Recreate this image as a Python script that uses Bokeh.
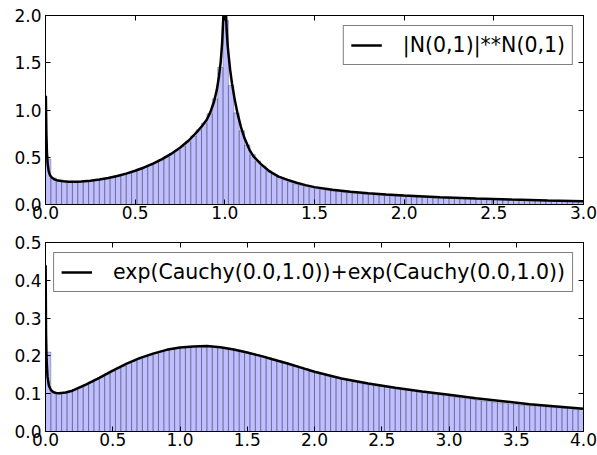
from bokeh.plotting import figure
from bokeh.models import Range1d, FixedTicker, NumeralTickFormatter, LinearAxis, CustomJSTickFormatter
from bokeh.layouts import column
from bokeh.embed import file_html
from bokeh.resources import INLINE

# ---------------- data: top panel |N(0,1)|**N(0,1) ----------------
top_bin_edges_start = 0.0
top_bin_width = 0.03
top_hist = [
    0.48, 0.28, 0.255, 0.245, 0.243, 0.243, 0.245, 0.248, 0.253, 0.26,
    0.268, 0.277, 0.288, 0.30, 0.316, 0.334, 0.353, 0.373, 0.395, 0.418,
    0.445, 0.475, 0.505, 0.54, 0.575, 0.615, 0.665, 0.725, 0.79, 0.86,
    0.96, 1.12, 1.45, 1.95, 1.26, 0.97, 0.78, 0.63, 0.53, 0.46,
    0.405, 0.355, 0.318, 0.288, 0.262, 0.238, 0.219, 0.203, 0.19, 0.178,
    0.168, 0.159, 0.151, 0.143, 0.137, 0.131, 0.125, 0.12, 0.115, 0.111,
    0.107, 0.103, 0.099, 0.096, 0.093, 0.09, 0.087, 0.085, 0.082, 0.08,
    0.077, 0.075, 0.073, 0.071, 0.069, 0.067, 0.065, 0.064, 0.062, 0.061,
    0.059, 0.058, 0.056, 0.055, 0.054, 0.052, 0.051, 0.05, 0.049, 0.048,
    0.047, 0.046, 0.045, 0.044, 0.043, 0.042, 0.041, 0.04, 0.039, 0.038,
]
top_curve_x = [0.002, 0.005, 0.008, 0.012, 0.018, 0.025, 0.035, 0.05, 0.07, 0.1,
               0.13, 0.17, 0.2, 0.25, 0.3, 0.35, 0.4, 0.45, 0.5, 0.55,
               0.6, 0.65, 0.7, 0.75, 0.8, 0.85, 0.875, 0.9, 0.92, 0.94,
               0.955, 0.967, 0.977, 0.985, 0.992, 1.0, 1.005, 1.01, 1.015, 1.02,
               1.03, 1.04, 1.055, 1.07, 1.09, 1.11, 1.14, 1.16, 1.2, 1.25,
               1.3, 1.35, 1.4, 1.45, 1.5, 1.6, 1.7, 1.8, 1.9, 2.0,
               2.2, 2.4, 2.6, 2.8, 3.0]
top_curve_y = [1.15, 0.75, 0.55, 0.43, 0.35, 0.31, 0.285, 0.266, 0.253, 0.245,
               0.242, 0.242, 0.244, 0.252, 0.264, 0.28, 0.302, 0.327, 0.357, 0.392,
               0.433, 0.48, 0.535, 0.60, 0.68, 0.78, 0.835, 0.90, 0.98, 1.09,
               1.21, 1.35, 1.51, 1.71, 2.0, 2.6, 2.1, 1.85, 1.70, 1.60,
               1.42, 1.28, 1.11, 0.97, 0.82, 0.70, 0.57, 0.51, 0.43, 0.35,
               0.295, 0.26, 0.23, 0.205, 0.184, 0.155, 0.134, 0.118, 0.106, 0.095,
               0.077, 0.064, 0.053, 0.043, 0.035]
top_label = "|N(0,1)|**N(0,1)"
top_xticks = [0.0, 0.5, 1.0, 1.5, 2.0, 2.5, 3.0]
top_yticks = [0.0, 0.5, 1.0, 1.5, 2.0]

# ---------------- data: bottom panel exp(Cauchy)+exp(Cauchy) ----------------
bot_bin_edges_start = 0.0
bot_bin_width = 0.04
bot_hist = [
    0.21, 0.103, 0.101, 0.103, 0.106, 0.111, 0.117, 0.124, 0.131, 0.138,
    0.145, 0.153, 0.160, 0.167, 0.173, 0.180, 0.186, 0.192, 0.198, 0.203,
    0.208, 0.212, 0.215, 0.218, 0.221, 0.223, 0.224, 0.225, 0.226, 0.226,
    0.226, 0.224, 0.222, 0.220, 0.218, 0.215, 0.212, 0.209, 0.206, 0.202,
    0.199, 0.195, 0.191, 0.187, 0.182, 0.178, 0.174, 0.170, 0.166, 0.161,
    0.157, 0.153, 0.149, 0.145, 0.142, 0.138, 0.135, 0.132, 0.129, 0.126,
    0.124, 0.121, 0.119, 0.117, 0.115, 0.113, 0.111, 0.109, 0.107, 0.105,
    0.103, 0.101, 0.099, 0.097, 0.095, 0.093, 0.091, 0.089, 0.087, 0.085,
    0.083, 0.081, 0.080, 0.078, 0.076, 0.075, 0.073, 0.072, 0.070, 0.069,
    0.068, 0.067, 0.066, 0.065, 0.064, 0.063, 0.062, 0.061, 0.060, 0.059,
]
bot_curve_x = [0.001, 0.004, 0.008, 0.015, 0.025, 0.04, 0.06, 0.08, 0.1, 0.15,
               0.2, 0.25, 0.3, 0.4, 0.5, 0.6, 0.7, 0.8, 0.9, 1.0,
               1.1, 1.2, 1.3, 1.4, 1.5, 1.6, 1.7, 1.8, 1.9, 2.0,
               2.2, 2.4, 2.6, 2.8, 3.0, 3.2, 3.4, 3.6, 3.8, 4.0]
bot_curve_y = [0.44, 0.26, 0.19, 0.145, 0.122, 0.110, 0.104, 0.102, 0.101, 0.103,
               0.108, 0.116, 0.124, 0.142, 0.161, 0.179, 0.194, 0.206, 0.216, 0.222,
               0.225, 0.226, 0.223, 0.217, 0.209, 0.200, 0.190, 0.180, 0.169, 0.158,
               0.140, 0.127, 0.116, 0.106, 0.097, 0.088, 0.080, 0.072, 0.066, 0.060]
bot_label = "exp(Cauchy(0.0,1.0))+exp(Cauchy(0.0,1.0))"
bot_xticks = [0.0, 0.5, 1.0, 1.5, 2.0, 2.5, 3.0, 3.5, 4.0]
bot_yticks = [0.0, 0.1, 0.2, 0.3, 0.4, 0.5]

FONT = "DejaVu Sans"


def style_axis(ax, ticks, show_labels=True):
    ax.ticker = FixedTicker(ticks=ticks)
    ax.major_tick_in = 5
    ax.major_tick_out = 0
    ax.minor_tick_line_color = None
    ax.axis_line_color = "black"
    ax.major_tick_line_color = "black"
    ax.major_label_text_font = FONT
    ax.major_label_text_color = "black"
    if show_labels:
        ax.formatter = NumeralTickFormatter(format="0.0")
        ax.major_label_text_font_size = "17px"
    else:
        ax.formatter = CustomJSTickFormatter(code="return ''")
        ax.major_label_text_font_size = "1px"
        ax.major_label_standoff = 0


def make_panel(hist, start, width, cx, cy, label, xticks, yticks, b_top, b_bottom):
    p = figure(frame_width=538, frame_height=189,
               x_range=Range1d(xticks[0], xticks[-1]),
               y_range=Range1d(yticks[0], yticks[-1]),
               output_backend="svg", toolbar_location=None,
               min_border_left=45, min_border_right=14,
               min_border_top=b_top, min_border_bottom=b_bottom)
    p.xgrid.visible = False
    p.ygrid.visible = False
    p.outline_line_color = "black"
    p.outline_line_width = 1
    p.background_fill_color = "white"
    p.border_fill_color = "white"

    lefts = [start + i * width for i in range(len(hist))]
    rights = [start + (i + 1) * width for i in range(len(hist))]
    p.quad(left=lefts, right=rights, bottom=0, top=hist,
           fill_color="blue", fill_alpha=0.25,
           line_color="black", line_alpha=0.25, line_width=1)
    p.line(cx, cy, line_color="black", line_width=2.5, legend_label=label)

    style_axis(p.xaxis[0], xticks)
    p.xaxis[0].major_label_standoff = 1
    style_axis(p.yaxis[0], yticks)
    p.yaxis[0].major_label_standoff = 4

    top_ax = LinearAxis()
    style_axis(top_ax, xticks, show_labels=False)
    p.add_layout(top_ax, "above")
    right_ax = LinearAxis()
    style_axis(right_ax, yticks, show_labels=False)
    p.add_layout(right_ax, "right")

    lg = p.legend[0]
    lg.location = "top_right"
    lg.margin = 10
    lg.padding = 7
    lg.glyph_width = 31
    lg.glyph_height = 20
    lg.label_height = 20
    lg.label_standoff = 21
    lg.label_text_font = FONT
    lg.label_text_font_size = "20.5px"
    lg.label_text_color = "black"
    lg.border_line_color = "black"
    lg.border_line_width = 1
    lg.background_fill_alpha = 1.0
    return p


p1 = make_panel(top_hist, top_bin_edges_start, top_bin_width, top_curve_x, top_curve_y,
                top_label, top_xticks, top_yticks, 15, 22)
p2 = make_panel(bot_hist, bot_bin_edges_start, bot_bin_width, bot_curve_x, bot_curve_y,
                bot_label, bot_xticks, bot_yticks, 16, 24)

p = column(p1, p2, spacing=0)
open("out.html", "w").write(file_html(p, INLINE))
